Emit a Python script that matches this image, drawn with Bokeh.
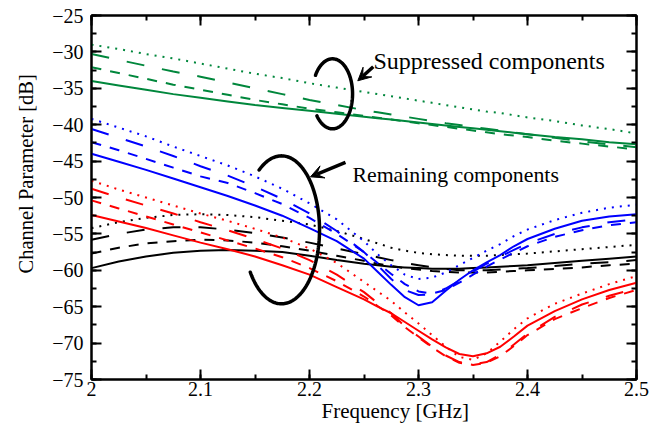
import numpy as np
from bokeh.plotting import figure
from bokeh.models import (Range1d, LinearAxis, Label, Arrow, VeeHead, Title,
                          SingleIntervalTicker, CustomJSTickFormatter)
from bokeh.embed import file_html
from bokeh.resources import INLINE

# ---------------- data ----------------
FREQ = [2.0, 2.025, 2.05, 2.075, 2.1, 2.125, 2.15, 2.175, 2.2, 2.225, 2.25,
        2.2625, 2.275, 2.2875, 2.3, 2.3125, 2.325, 2.3375, 2.35, 2.3625, 2.375,
        2.3875, 2.4, 2.425, 2.45, 2.475, 2.5]

GREEN_DOT = [-29.0, -29.6, -30.3, -30.9, -31.6, -32.3, -33.0, -33.6, -34.3, -34.9, -35.5,
             -35.8, -36.1, -36.4, -36.7, -37.0, -37.3, -37.6, -37.9, -38.2, -38.4,
             -38.7, -39.0, -39.5, -40.1, -40.6, -41.2]
GREEN_LDASH = [-30.3, -31.1, -31.9, -32.7, -33.4, -34.2, -35.0, -35.8, -36.6, -37.3, -38.0,
               -38.3, -38.6, -38.9, -39.2, -39.5, -39.8, -40.05, -40.3, -40.55, -40.8,
               -41.05, -41.3, -41.8, -42.3, -42.7, -43.1]
GREEN_DASH = [-32.1, -32.9, -33.7, -34.5, -35.2, -35.9, -36.6, -37.2, -37.8, -38.3, -38.8,
              -39.05, -39.3, -39.55, -39.8, -40.05, -40.3, -40.55, -40.8, -41.05, -41.3,
              -41.5, -41.7, -42.2, -42.6, -43.0, -43.4]
GREEN_SOLID = [-34.0, -34.6, -35.2, -35.8, -36.3, -36.8, -37.3, -37.7, -38.1, -38.5, -38.9,
               -39.1, -39.3, -39.5, -39.7, -39.9, -40.1, -40.3, -40.5, -40.7, -40.9,
               -41.1, -41.3, -41.7, -42.0, -42.4, -42.7]

BLUE_DOT = [-39.2, -40.4, -41.6, -43.0, -44.3, -45.6, -47.1, -48.8, -50.8, -53.0, -56.0,
            -57.8, -59.3, -60.6, -61.2, -61.0, -60.3, -59.3, -58.3, -57.3, -56.4,
            -55.3, -54.4, -53.1, -52.1, -51.4, -51.0]
BLUE_LDASH = [-40.6, -41.8, -43.0, -44.3, -45.7, -47.0, -48.5, -50.2, -52.2, -54.6, -57.5,
              -59.3, -61.2, -62.7, -63.4, -63.3, -62.5, -61.4, -60.2, -59.1, -58.1,
              -57.2, -56.3, -55.0, -54.1, -53.4, -53.0]
BLUE_DASH = [-42.4, -43.5, -44.7, -45.9, -47.1, -48.0, -49.4, -50.9, -52.8, -55.0, -57.5,
             -59.0, -60.5, -61.9, -62.9, -63.2, -62.7, -61.7, -60.6, -59.5, -58.5,
             -57.6, -56.7, -55.4, -54.5, -53.8, -53.4]
BLUE_SOLID = [-44.0, -45.1, -46.2, -47.4, -48.6, -49.8, -51.1, -52.5, -54.2, -56.0, -58.4,
              -60.2, -62.0, -63.7, -64.8, -64.4, -62.8, -61.3, -60.0, -58.9, -57.9,
              -56.7, -55.7, -54.3, -53.2, -52.6, -52.3]

BLACK_DOT = [-54.2, -53.4, -52.8, -52.4, -52.3, -52.4, -52.7, -53.2, -53.7, -54.6, -55.7,
             -56.3, -56.9, -57.3, -57.6, -57.8, -57.9, -58.0, -58.0, -58.0, -57.9,
             -57.8, -57.7, -57.4, -57.1, -56.8, -56.5]
BLACK_LDASH = [-55.8, -55.0, -54.4, -54.1, -54.1, -54.4, -54.9, -55.5, -56.2, -57.0, -57.8,
               -58.2, -58.6, -59.0, -59.3, -59.6, -59.8, -60.0, -60.0, -60.0, -59.9,
               -59.8, -59.7, -59.4, -59.1, -58.9, -58.6]
BLACK_DASH = [-57.7, -56.9, -56.3, -56.0, -55.8, -55.9, -56.2, -56.7, -57.3, -58.0, -58.7,
              -59.1, -59.4, -59.7, -59.9, -60.1, -60.2, -60.3, -60.3, -60.3, -60.2,
              -60.1, -60.0, -59.8, -59.6, -59.3, -59.1]
BLACK_SOLID = [-59.7, -58.8, -58.1, -57.6, -57.3, -57.2, -57.3, -57.5, -58.0, -58.6, -59.1,
               -59.3, -59.5, -59.6, -59.7, -59.8, -59.8, -59.8, -59.7, -59.6, -59.5,
               -59.4, -59.3, -59.0, -58.7, -58.4, -58.1]

RED_DOT = [-47.7, -48.9, -50.0, -51.1, -52.2, -53.2, -54.3, -55.5, -57.0, -59.0, -61.6,
           -62.9, -64.2, -65.8, -67.3, -68.9, -70.5, -71.9, -72.3, -71.4, -69.8,
           -68.1, -66.6, -64.6, -63.2, -61.9, -60.8]
RED_LDASH = [-48.8, -50.0, -51.1, -52.2, -53.4, -54.5, -55.7, -57.0, -58.6, -60.6, -63.0,
             -64.5, -65.9, -67.7, -69.1, -70.5, -71.7, -72.6, -72.9, -72.6, -71.6,
             -70.2, -68.7, -66.4, -64.7, -63.5, -62.5]
RED_DASH = [-50.4, -51.5, -52.6, -53.7, -54.8, -55.9, -57.0, -58.2, -59.7, -61.5, -63.6,
            -64.9, -66.2, -67.8, -69.2, -70.6, -71.8, -72.7, -73.0, -72.7, -71.8,
            -70.4, -68.9, -66.7, -65.2, -63.8, -62.7]
RED_SOLID = [-52.4, -53.3, -54.2, -55.2, -56.2, -57.1, -58.1, -59.3, -60.6, -62.3, -64.0,
             -65.0, -65.9, -67.1, -68.3, -69.5, -70.6, -71.5, -71.8, -71.4, -70.5,
             -69.1, -67.6, -65.6, -64.0, -62.7, -61.7]

X_LABEL = "Frequency [GHz]"
Y_LABEL = "Channel Parameter [dB]"
NOTE_SUPPRESSED = "Suppressed components"
NOTE_REMAINING = "Remaining components"

# ---------------- styles ----------------
GREEN = "#00873c"
BLUE = "#0000ff"
BLACK = "#000000"
RED = "#ff0000"
FONT = "Liberation Serif"
DASHES = {"dot": "2 6", "ldash": "18 18", "dash": "10 9", "solid": "solid"}

p = figure(width=663, height=432, output_backend="svg", toolbar_location=None,
           x_range=Range1d(2.0, 2.5), y_range=Range1d(-75, -25),
           min_border_left=91, min_border_right=27, min_border_top=15,
           min_border_bottom=53)
p.xgrid.visible = False
p.ygrid.visible = False
p.outline_line_color = "black"
p.outline_line_width = 2
p.background_fill_color = "white"
p.border_fill_color = "white"

xfmt = CustomJSTickFormatter(code="return tick.toFixed(1).replace(/\\.0$/, '');")
blank = CustomJSTickFormatter(code="return '';")


def style_axis(ax):
    ax.axis_line_width = 2
    ax.axis_line_color = "black"
    ax.major_tick_in = 10
    ax.major_tick_out = 0
    ax.minor_tick_in = 5
    ax.minor_tick_out = 0
    ax.major_tick_line_width = 2
    ax.minor_tick_line_width = 2
    ax.major_tick_line_color = "black"
    ax.minor_tick_line_color = "black"
    ax.major_label_text_font = FONT
    ax.major_label_text_color = "black"
    ax.major_label_text_font_size = "20px"


# bottom / left
p.xaxis.ticker = SingleIntervalTicker(interval=0.1, num_minor_ticks=2)
p.xaxis.formatter = xfmt
p.yaxis.ticker = SingleIntervalTicker(interval=5, num_minor_ticks=2)
style_axis(p.xaxis[0])
style_axis(p.yaxis[0])
p.xaxis.major_label_standoff = 2
p.yaxis.major_label_standoff = 8

# top / right (ticks only)
top = LinearAxis(ticker=SingleIntervalTicker(interval=0.1, num_minor_ticks=2), formatter=blank)
right = LinearAxis(ticker=SingleIntervalTicker(interval=5, num_minor_ticks=2), formatter=blank)
style_axis(top)
style_axis(right)
top.major_label_standoff = 0
right.major_label_standoff = 0
p.add_layout(top, "above")
p.add_layout(right, "right")

series = [
    (GREEN_DOT, GREEN, "dot"), (GREEN_LDASH, GREEN, "ldash"),
    (GREEN_DASH, GREEN, "dash"), (GREEN_SOLID, GREEN, "solid"),
    (BLACK_DOT, BLACK, "dot"), (BLACK_LDASH, BLACK, "ldash"),
    (BLACK_DASH, BLACK, "dash"), (BLACK_SOLID, BLACK, "solid"),
    (BLUE_DOT, BLUE, "dot"), (BLUE_LDASH, BLUE, "ldash"),
    (BLUE_DASH, BLUE, "dash"), (BLUE_SOLID, BLUE, "solid"),
    (RED_DOT, RED, "dot"), (RED_LDASH, RED, "ldash"),
    (RED_DASH, RED, "dash"), (RED_SOLID, RED, "solid"),
]
for ys, col, sty in series:
    p.line(FREQ, ys, line_color=col, line_width=2, line_dash=DASHES[sty])

# ---------------- annotations ----------------
def open_ellipse(cx, cy, rx, ry, gap_start, gap_end):
    t = np.radians(np.linspace(gap_end - 360, gap_start, 160))
    p.line(cx + rx * np.cos(t), cy + ry * np.sin(t), line_color="black",
           line_width=3.5, line_cap="round")

open_ellipse(2.2211, -35.76, 0.0184, 4.81, 148, 219)
open_ellipse(2.1743, -54.44, 0.0349, 10.16, 126, 215)

for xs, ys, xe, ye in [(2.2585, -32.05, 2.2443, -33.97), (2.2330, -45.19, 2.2009, -47.16)]:
    p.add_layout(Arrow(end=VeeHead(size=13, fill_color="black", line_color="black"),
                       x_start=xs, y_start=ys, x_end=xe, y_end=ye,
                       line_width=3.5, line_color="black"))

p.add_layout(Label(x=2.2587, y=-31.22, text=NOTE_SUPPRESSED, text_font=FONT,
                   text_font_size="24px", text_baseline="alphabetic", text_color="black"))
p.add_layout(Label(x=2.2394, y=-46.88, text=NOTE_REMAINING, text_font=FONT,
                   text_font_size="21.8px", text_baseline="alphabetic", text_color="black"))

# axis titles, placed off-centre as in the reference
p.add_layout(Title(text=X_LABEL, align="left", offset=230, standoff=0,
                   vertical_align="top", text_font=FONT, text_font_size="21px",
                   text_font_style="normal", text_color="black"), "below")
p.add_layout(Title(text=Y_LABEL, align="left", offset=106, standoff=21,
                   vertical_align="top", text_font=FONT, text_font_size="20.5px",
                   text_font_style="normal", text_color="black"), "left")

open("out.html", "w").write(file_html(p, INLINE))
